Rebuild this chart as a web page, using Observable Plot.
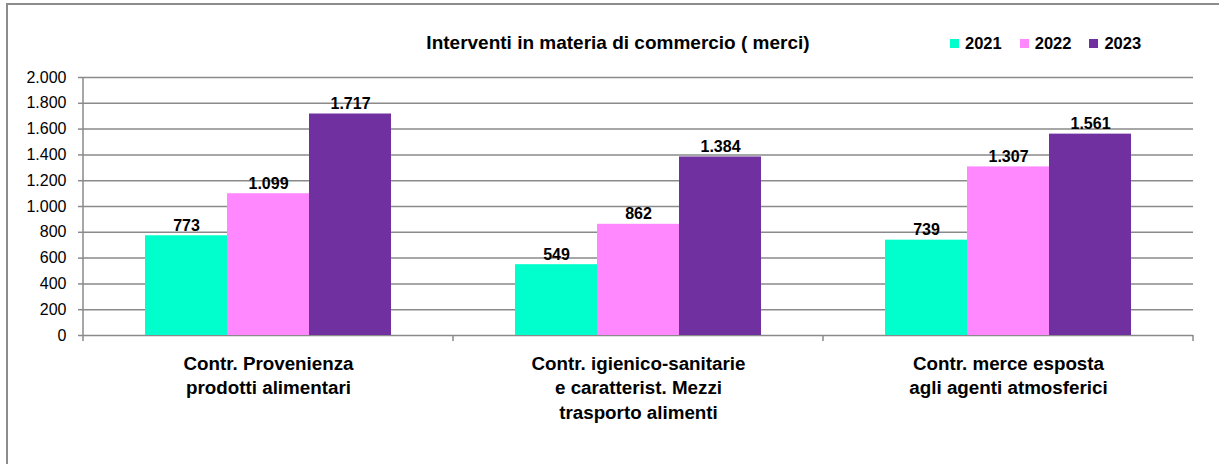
<!DOCTYPE html>
<html>
<head>
<meta charset="utf-8">
<script src="https://cdn.jsdelivr.net/npm/d3@7"></script>
<script src="https://cdn.jsdelivr.net/npm/@observablehq/plot@0.6"></script>
<style>
  html, body { margin: 0; padding: 0; background: #fff; }
  body { font-family: "Liberation Sans", Arial, sans-serif; }
  #wrap { position: relative; width: 1219px; height: 464px; overflow: hidden; background: #fff; }
  #border { position: absolute; left: 6px; top: 3px; width: 1240px; height: 480px; border: 2px solid #8c8c8c; box-sizing: border-box; }
  #chart { position: absolute; left: 0; top: 0; }
  #title { position: absolute; left: 618px; top: 32px; transform: translateX(-50%); font-weight: bold; font-size: 19px; white-space: nowrap; color: #000; }
  #legend { position: absolute; left: 950px; top: 34px; display: flex; align-items: center; font-weight: bold; font-size: 16.5px; color: #000; }
  #legend .item { display: flex; align-items: center; margin-right: 18px; }
  #legend .sw { width: 9px; height: 9px; margin-right: 6px; }
</style>
</head>
<body>
<div id="wrap">
  <div id="border"></div>
  <div id="chart"></div>
  <div id="title"></div>
  <div id="legend"></div>
</div>
<script>
// ---- data ----
const chartTitle = "Interventi in materia di commercio ( merci)";
const categories = [
  "Contr. Provenienza\nprodotti alimentari",
  "Contr. igienico-sanitarie\ne caratterist. Mezzi\ntrasporto alimenti",
  "Contr. merce esposta\nagli agenti atmosferici"
];
const years = ["2021", "2022", "2023"];
const values2021 = [773, 549, 739];
const values2022 = [1099, 862, 1307];
const values2023 = [1717, 1384, 1561];
const yearColors = ["#00FFCC", "#FF88FF", "#7030A0"];
const yTicks = [0, 200, 400, 600, 800, 1000, 1200, 1400, 1600, 1800, 2000];

// ---- build table ----
const seriesValues = [values2021, values2022, values2023];
const rows = [];
categories.forEach((c, i) => {
  years.forEach((yr, j) => rows.push({category: c, year: yr, value: seriesValues[j][i]}));
});

const locale = d3.formatLocale({decimal: ",", thousands: ".", grouping: [3], currency: ["€", ""]});
const fmt = locale.format(",d");

const chart = Plot.plot({
  width: 1219,
  height: 464,
  marginLeft: 83,
  marginRight: 26,
  marginTop: 77,
  marginBottom: 129,
  style: {fontFamily: "'Liberation Sans', Arial, sans-serif", background: "transparent", color: "#000", overflow: "visible"},
  fx: {domain: categories, padding: 0, label: null, axis: null},
  x: {domain: years, paddingInner: 0, paddingOuter: 0.75, axis: null},
  y: {domain: [0, 2000], label: null, axis: null},
  color: {domain: years, range: yearColors},
  marks: [
    Plot.ruleY(yTicks, {y: d => d, stroke: "#8a8a8a", strokeWidth: 1.5}),
    Plot.barY(rows, {fx: "category", x: "year", y: "value", fill: "year"}),
    Plot.text(rows, {fx: "category", x: "year", y: "value", text: d => fmt(d.value),
      dy: -5, lineAnchor: "bottom", fontWeight: "bold", fontSize: 16, fill: "#000"}),
    Plot.axisY({ticks: yTicks, tickFormat: fmt, tickSize: 5, tickPadding: 12, fontSize: 16,
      stroke: "#8a8a8a", strokeWidth: 1.5, label: null}),
    Plot.axisFx({anchor: "bottom", tickSize: 0, tickPadding: 17, fontSize: 18.8, fontWeight: "bold",
      lineHeight: 1.3, label: null})
  ]
});
document.getElementById("chart").appendChild(chart);

// axis line and category boundary ticks (from the library's scales)
const fxS = chart.scale("fx");
const yS = chart.scale("y");
const svg = d3.select(chart);
const base = yS.apply(0);
const g = svg.append("g").attr("stroke", "#8a8a8a").attr("stroke-width", 1.5);
const x0 = fxS.apply(categories[0]);
g.append("line").attr("x1", x0).attr("x2", x0).attr("y1", yS.apply(2000)).attr("y2", base + 6);
categories.forEach(c => {
  const xb = fxS.apply(c) + fxS.bandwidth;
  g.append("line").attr("x1", xb).attr("x2", xb).attr("y1", base).attr("y2", base + 6);
});

// title & legend
document.getElementById("title").textContent = chartTitle;
const legend = document.getElementById("legend");
years.forEach((yr, j) => {
  const it = document.createElement("div");
  it.className = "item";
  const sw = document.createElement("div");
  sw.className = "sw";
  sw.style.background = yearColors[j];
  const t = document.createElement("span");
  t.textContent = yr;
  it.appendChild(sw); it.appendChild(t);
  legend.appendChild(it);
});
</script>
</body>
</html>
